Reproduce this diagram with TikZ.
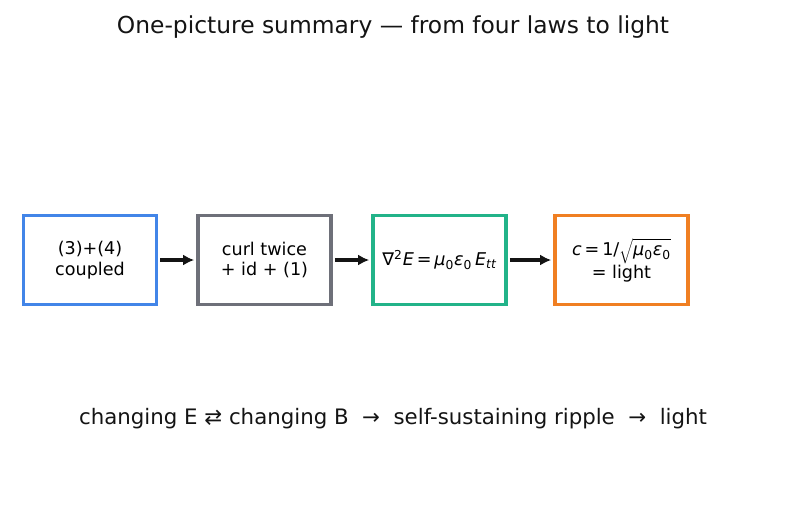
\documentclass[tikz,border=0pt]{standalone}
\usepackage{fontspec}
\setmainfont{DejaVu Sans}
\usetikzlibrary{arrows.meta}
\definecolor{stepblue}{HTML}{4285E8}
\definecolor{stepgray}{HTML}{6E7079}
\definecolor{stepgreen}{HTML}{22B389}
\definecolor{steporange}{HTML}{F07F22}
\newcommand{\mi}[1]{{\itshape #1}}

\begin{document}
\begin{tikzpicture}[x=0.0254cm, y=-0.0254cm,
  stepbox/.style={draw, line width=2.7pt, rectangle, minimum width=96pt, minimum height=64.5pt, align=center, font=\fontsize{12.7}{15}\selectfont, inner sep=2pt},
  flow/.style={-{Latex[length=8pt, width=8pt]}, line width=2.3pt, black!92, shorten <=1.5pt, shorten >=1.5pt}]
\useasboundingbox (0,0) rectangle (787,510);

\node[font=\fontsize{16.9}{20}\selectfont, text=black!92] (title) at (393,27) {One-picture summary — from four laws to light};

\node[stepbox, draw=stepblue] (coupled) at (90,260) {(3)+(4)\\coupled};
\node[stepbox, draw=stepgray] (curl) at (264.5,260) {curl twice\\+ id + (1)};
\node[stepbox, draw=stepgreen] (wave) at (439.5,260) {∇\textsuperscript{2}\mi{E}\,=\,\mi{μ}\textsubscript{0}\mi{ε}\textsubscript{0}\,\mi{E}\textsubscript{\mi{tt}}};
\node[stepbox, draw=steporange] (light) at (621.5,260) {\mi{c}\,=\,1/$\sqrt{\hbox{\strut\mi{μ}\textsubscript{0}\mi{ε}\textsubscript{0}}}$\\= light};

\draw[flow] (coupled) -- (curl);
\draw[flow] (curl) -- (wave);
\draw[flow] (wave) -- (light);

\node[font=\fontsize{15.4}{18}\selectfont, text=black!92] (chain) at (393,419) {changing E ⇄ changing B \ → \ self-sustaining ripple \ → \ light};
\end{tikzpicture}
\end{document}
